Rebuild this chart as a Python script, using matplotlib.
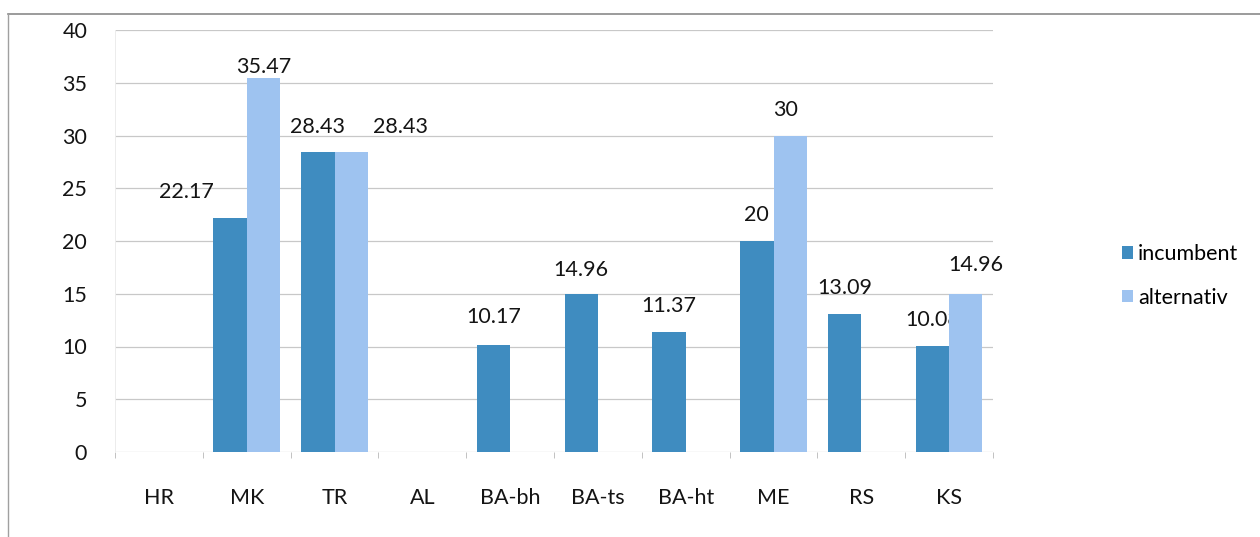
import matplotlib
matplotlib.use("Agg")
import matplotlib.pyplot as plt
import numpy as np
from matplotlib.lines import Line2D
from matplotlib.patches import Patch

plt.rcParams['font.family'] = ['Lato', 'DejaVu Sans']

categories = ["HR", "MK", "TR", "AL", "BA-bh", "BA-ts", "BA-ht", "ME", "RS", "KS"]
incumbent = [None, 22.17, 28.43, None, 10.17, 14.96, 11.37, 20, 13.09, 10.08]
alternativ = [None, 35.47, 28.43, None, None, None, None, 30, None, 14.96]
series_names = ["incumbent", "alternativ"]
yticks = [0, 5, 10, 15, 20, 25, 30, 35, 40]

# styling: per-label nudges (pixels) to mimic the original label placement
inc_dx = [0, -44, 0, 0, 0, 0, 0, 0, 0, 0]
inc_dy = [26, 26, 25, 26, 28, 24, 26, 26, 26, 26]
alt_dx = [0, 0, 49, 0, 0, 0, 0, -5, 0, 10]
alt_dy = [26, 11, 25, 26, 26, 26, 26, 25, 26, 29]

c_inc = "#3f8cc0"
c_alt = "#9ec3f0"
txt = "#141414"
fs = 15.5

fig = plt.figure(figsize=(12.6, 5.37), dpi=100)
ax = fig.add_axes([115/1260, 1 - 452/537, (993-115)/1260, (452-30)/537])

x = np.arange(len(categories))
w = 0.38

def fmt(v):
    return ("%g" % v)

for i, (a, b) in enumerate(zip(incumbent, alternativ)):
    if a is not None:
        ax.bar(x[i] - w/2, a, w, color=c_inc, zorder=3)
        ax.annotate(fmt(a), (x[i] - w/2, a), xytext=(inc_dx[i], inc_dy[i]),
                    textcoords='offset pixels', ha='center', va='center',
                    fontsize=fs, color=txt)
    if b is not None:
        ax.bar(x[i] + w/2, b, w, color=c_alt, zorder=3)
        ax.annotate(fmt(b), (x[i] + w/2, b), xytext=(alt_dx[i], alt_dy[i]),
                    textcoords='offset pixels', ha='center', va='center',
                    fontsize=fs, color=txt, annotation_clip=False)

ax.set_xlim(-0.5, len(categories) - 0.5)
ax.set_ylim(0, 40)
ax.set_yticks(yticks)
ax.set_yticklabels([str(t) for t in yticks], fontsize=fs, color=txt)
ax.set_xticks(x)
ax.set_xticklabels(categories, fontsize=fs, color=txt)
ax.set_xticks(np.arange(-0.5, len(categories), 1.0), minor=True)
ax.tick_params(axis='x', which='major', length=0, pad=26)
ax.tick_params(axis='x', which='minor', length=4, color='#b8b8b8', direction='out')
ax.tick_params(axis='y', length=0, pad=20)

ax.grid(axis='y', color='#c8c8c8', linewidth=0.9, zorder=0)
for s in ['top', 'right', 'bottom']:
    ax.spines[s].set_visible(False)
ax.spines['left'].set_color('#ececec')
ax.spines['left'].set_linewidth(0.7)

handles = [Patch(facecolor=c_inc, edgecolor='none'), Patch(facecolor=c_alt, edgecolor='none')]
fig.legend(handles, series_names, loc='center left',
           bbox_to_anchor=(1111/1260, 1 - 276/537), frameon=False,
           fontsize=fs, handlelength=0.5, handleheight=0.5,
           handletextpad=0.25, labelspacing=1.1, borderpad=0)

# scanned page frame
fig.add_artist(Line2D([8/1260, 1], [1 - 14/537, 1 - 14/537], color='#8a8a8a', lw=1.2))
fig.add_artist(Line2D([8/1260, 8/1260], [0, 1 - 14/537], color='#a0a0a0', lw=1.0))

fig.savefig("out.png", dpi=100)
